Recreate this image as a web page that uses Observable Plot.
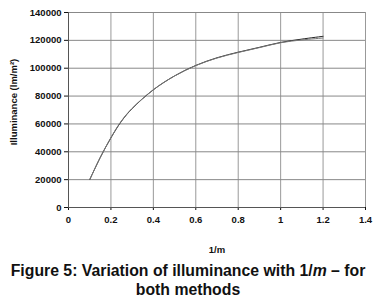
<!DOCTYPE html>
<html>
<head>
<meta charset="utf-8">
<script src="https://cdn.jsdelivr.net/npm/d3@7"></script>
<script src="https://cdn.jsdelivr.net/npm/@observablehq/plot@0.6"></script>
<style>
  html, body { margin: 0; padding: 0; background: #fff; }
  #chart { width: 376px; }
  .caption { font-family: "Liberation Sans", Arial, sans-serif; font-weight: bold; font-size: 15.8px; text-align: center; line-height: 19px; margin-top: 3px; color: #111; width: 376px; }
</style>
</head>
<body>
<div id="chart"></div>
<div class="caption">Figure 5: Variation of illuminance with 1/<i>m</i> – for<br>both methods</div>
<script>
const invM = [0.1, 0.15, 0.2, 0.25, 0.3, 0.4, 0.5, 0.6, 0.7, 0.8, 0.9, 1.0, 1.1, 1.2];
const methodA = [20000, 36000, 50000, 62000, 71000, 84500, 94500, 102000, 107500, 111500, 115000, 118500, 120900, 122900];
const methodB = [20000, 36000, 50200, 62300, 71200, 84600, 94400, 101900, 107300, 111300, 114800, 118300, 120300, 121700];
const xTicks = [0, 0.2, 0.4, 0.6, 0.8, 1, 1.2, 1.4];
const yTicks = [0, 20000, 40000, 60000, 80000, 100000, 120000, 140000];
const xTitle = "1/m";
const yTitle = "Illuminance (lm/m²)";

const data = [];
invM.forEach((x, i) => {
  data.push({x, y: methodA[i], method: "A"});
  data.push({x, y: methodB[i], method: "B"});
});

const chart = Plot.plot({
  width: 376,
  height: 258,
  marginTop: 12,
  marginBottom: 51,
  marginLeft: 68,
  marginRight: 11,
  style: {fontFamily: "'Liberation Sans', Arial, sans-serif", fontSize: "9.5px", fontWeight: "bold", color: "#111", background: "#fff"},
  x: {domain: [0, 1.4], ticks: xTicks, tickFormat: d => String(d), label: null, tickSize: 3, tickPadding: 6},
  y: {domain: [0, 140000], ticks: yTicks, tickFormat: d => String(d), label: null, tickSize: 4, tickPadding: 3},
  color: {domain: ["A", "B"], range: ["#222", "#777"]},
  marks: [
    Plot.gridX(xTicks, {stroke: "#999", strokeOpacity: 1, strokeWidth: 1}),
    Plot.gridY(yTicks, {stroke: "#888", strokeOpacity: 1, strokeWidth: 1}),
    Plot.ruleX([0], {stroke: "#555"}),
    Plot.ruleY([0], {stroke: "#555"}),
    Plot.line(data, {x: "x", y: "y", z: "method", stroke: d => d.method, curve: "catmull-rom", strokeWidth: 1}),
    Plot.text([xTitle], {frameAnchor: "bottom", dy: 45, text: d => d, fontSize: 9.5, fontWeight: "bold"}),
    Plot.text([yTitle], {frameAnchor: "left", textAnchor: "middle", dx: -55, dy: -8, rotate: -90, text: d => d, fontSize: 9.5, fontWeight: "bold"})
  ]
});
document.getElementById("chart").appendChild(chart);
</script>
</body>
</html>
